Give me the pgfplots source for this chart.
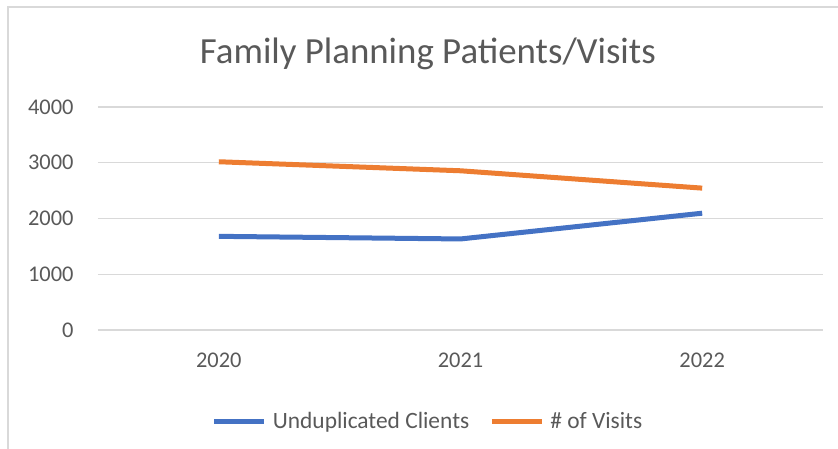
\documentclass[border=0pt]{standalone}
\usepackage{pgfplots}
\pgfplotsset{compat=1.18}
\usepackage{fontspec}
\setmainfont{Carlito}
\definecolor{xlblue}{HTML}{4472C4}
\definecolor{xlorange}{HTML}{ED7D31}
\definecolor{xltext}{HTML}{595959}
\definecolor{xlgrid}{HTML}{D9D9D9}
\begin{document}
\begin{tikzpicture}
\path[use as bounding box] (-98bp,-119bp) rectangle (740bp,330bp);
\draw[xlgrid, line width=1.5bp] (-90bp,-119bp) -- (-90bp,323bp) -- (740bp,323bp);
\begin{axis}[
  at={(0,0)}, anchor=south west,
  scale only axis, width=725bp, height=223bp,
  xmin=-0.5, xmax=2.5, ymin=0, ymax=4000,
  xtick={0,1,2}, xticklabels={2020,2021,2022},
  ytick={0,1000,2000,3000,4000},
  axis line style={draw=none},
  major tick length=0pt,
  ymajorgrids, grid style={xlgrid, line width=1.2bp},
  tick label style={font=\fontsize{22.5}{27}\selectfont, text=xltext},
  /pgf/number format/assume math mode=true,
  /pgf/number format/1000 sep={},
  xticklabel style={yshift=-19bp},
  yticklabel style={xshift=-21bp},
  title={Family Planning Patients/Visits},
  title style={font=\fontsize{37}{44}\selectfont, text=xltext, at={(0.455,1.21)}, anchor=center},
  legend columns=2,
  legend style={at={(0.458,-0.41)}, anchor=center, draw=none, fill=none,
    font=\fontsize{23.5}{28}\selectfont, text=xltext,
    nodes={inner xsep=6bp},
    /tikz/every even column/.append style={column sep=14bp}},
  legend image code/.code={\draw[#1] (0bp,0bp) -- (50bp,0bp);},
]
\addplot[xlblue, line width=5bp] coordinates {(0,1680) (1,1633) (2,2095)};
\addlegendentry{Unduplicated Clients}
\addplot[xlorange, line width=5bp] coordinates {(0,3018) (1,2856) (2,2545)};
\addlegendentry{\# of Visits}
\end{axis}
\end{tikzpicture}
\end{document}
